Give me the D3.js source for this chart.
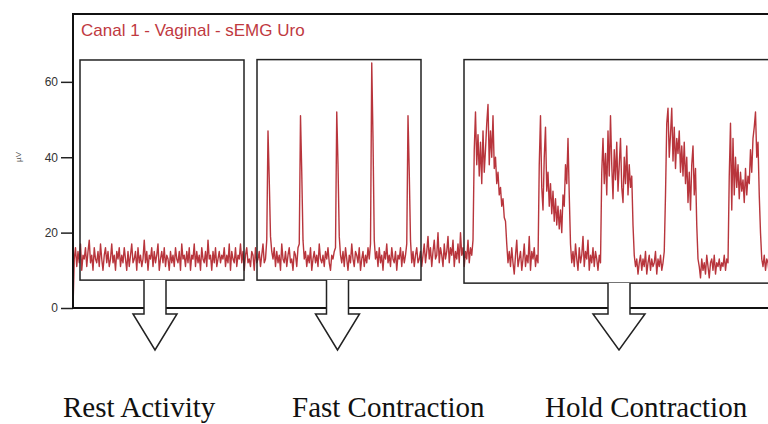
<!DOCTYPE html>
<html>
<head>
<meta charset="utf-8">
<script src="https://cdn.jsdelivr.net/npm/d3@7"></script>
<style>
  html, body { margin: 0; padding: 0; background: #fff; }
  #chart { width: 768px; height: 424px; overflow: hidden; }
</style>
</head>
<body>
<div id="chart"></div>
<script>
const width = 768;
const height = 424;

// sEMG amplitude (µV), one sample every 0.25 s
const sampleStep = 0.25;
const emg = [
  // 0 - 10 s
  0, 13, 16, 11, 15, 12, 17, 10, 14, 13, 16, 11, 15, 18, 12, 14, 10, 16, 13, 12,
  15, 11, 17, 13, 10, 14, 16, 12, 15, 11, 13, 17, 12, 14, 10, 15, 13, 16, 11, 14,
  // 10 - 20 s
  12, 16, 13, 10, 15, 11, 14, 17, 12, 13, 15, 10, 16, 12, 14, 11, 13, 18, 12, 15,
  10, 14, 13, 16, 11, 15, 12, 14, 17, 10, 13, 15, 12, 16, 11, 14, 13, 10, 15, 12,
  // 20 - 30 s
  14, 11, 16, 13, 12, 15, 10, 17, 13, 14, 11, 15, 12, 16, 10, 14, 13, 17, 11, 15,
  12, 14, 10, 16, 13, 12, 15, 11, 18, 13, 14, 10, 15, 12, 16, 11, 13, 15, 12, 14,
  // 30 - 40 s
  13, 16, 11, 14, 12, 17, 10, 15, 13, 12, 16, 11, 14, 13, 17, 12, 15, 10, 14, 16,
  12, 13, 11, 15, 14, 10, 16, 12, 13, 15, 11, 14, 17, 12, 13, 18, 47, 34, 19, 15,
  // 40 - 50 s
  13, 16, 11, 15, 12, 14, 10, 17, 13, 12, 15, 11, 14, 16, 12, 13, 10, 15, 14, 11,
  16, 17, 51, 36, 18, 13, 15, 11, 14, 12, 16, 10, 13, 15, 12, 14, 11, 17, 13, 12,
  // 50 - 60 s
  14, 11, 15, 13, 16, 12, 10, 14, 13, 15, 16, 52, 38, 19, 14, 12, 15, 11, 16, 13,
  10, 14, 12, 17, 13, 11, 15, 14, 12, 16, 10, 13, 15, 11, 14, 12, 16, 13, 17, 65,
  // 60 - 70 s
  45, 18, 13, 15, 11, 16, 12, 14, 10, 15, 13, 17, 12, 14, 11, 16, 13, 12, 15, 10,
  14, 13, 16, 11, 15, 12, 14, 17, 51, 36, 18, 12, 15, 11, 14, 16, 12, 13, 15, 11,
  // 70 - 80 s
  14, 17, 12, 15, 19, 13, 16, 11, 15, 18, 13, 14, 20, 12, 16, 14, 11, 17, 13, 15,
  19, 12, 16, 14, 18, 11, 15, 13, 17, 12, 20, 14, 16, 11, 15, 13, 18, 12, 16, 14,
  // 80 - 90 s
  18, 42, 52, 38, 46, 35, 44, 33, 47, 36, 42, 49, 54, 38, 47, 40, 51, 37, 40, 33,
  36, 30, 32, 27, 29, 24, 23, 17, 12, 15, 11, 16, 12, 9, 14, 18, 11, 13, 15, 10,
  // 90 - 100 s
  13, 17, 11, 14, 12, 19, 10, 15, 13, 16, 11, 14, 12, 38, 51, 32, 26, 40, 48, 31,
  36, 27, 33, 25, 31, 23, 29, 22, 27, 21, 26, 20, 30, 27, 38, 33, 45, 30, 17, 12,
  // 100 - 110 s
  15, 11, 17, 13, 10, 16, 12, 14, 19, 11, 15, 13, 18, 10, 14, 12, 16, 11, 15, 13,
  10, 14, 12, 36, 45, 33, 41, 30, 47, 35, 51, 38, 29, 42, 34, 44, 31, 38, 45, 32,
  // 110 - 120 s
  28, 40, 33, 43, 30, 38, 32, 35, 22, 14, 11, 13, 9, 12, 14, 10, 13, 11, 15, 9,
  12, 14, 10, 13, 11, 12, 15, 9, 13, 11, 14, 10, 12, 15, 30, 49, 53, 40, 46, 53,
  // 120 - 130 s
  39, 48, 37, 45, 41, 47, 36, 43, 35, 44, 33, 40, 28, 36, 26, 38, 43, 30, 37, 22,
  13, 11, 8, 13, 10, 12, 9, 14, 11, 8, 12, 13, 10, 14, 9, 12, 11, 13, 10, 12,
  // 130 - 140 s
  11, 14, 10, 13, 12, 35, 49, 26, 45, 30, 40, 32, 38, 29, 36, 31, 34, 28, 37, 30,
  35, 33, 42, 36, 45, 48, 52, 40, 44, 30, 20, 13, 11, 14, 10, 13, 12, 9, 14, 11
];

const yTicks = [0, 20, 40, 60];

// annotated sections (time in s, amplitude in µV)
const sectionNames = ["Rest Activity", "Fast Contraction", "Hold Contraction"];
const sectionStart = [1.4, 36.8, 78.2];
const sectionEnd = [34.2, 69.6, 150];
const sectionTop = [65.8, 65.9, 65.9];
const sectionBottom = [7.4, 7.4, 6.6];
const sectionArrow = [16.4, 52.9, 109.2];
const sectionLabelX = [63, 292, 545];

const margin = {left: 73, top: 14, bottom: 308};

let x = d3.scaleLinear().domain([0, 139]).range([margin.left, 768]);
let y = d3.scaleLinear().domain([0, 78]).range([margin.bottom, margin.top]);

const svg = d3.select("#chart").append("svg")
    .attr("width", width)
    .attr("height", height)
    .style("font-family", "Arial, 'Liberation Sans', sans-serif");

svg.append("defs").append("clipPath")
    .attr("id", "plotclip")
    .append("rect")
    .attr("x", margin.left)
    .attr("y", margin.top)
    .attr("width", 800 - margin.left)
    .attr("height", margin.bottom - margin.top);

// y axis
const yAxis = svg.append("g")
    .attr("transform", `translate(${margin.left},0)`)
    .call(d3.axisLeft(y).tickValues(yTicks).tickSize(12).tickPadding(3))
yAxis.select(".domain").remove();
yAxis.selectAll(".tick line").attr("stroke", "#222").attr("stroke-width", 1.5);
yAxis.selectAll(".tick text")
    .attr("fill", "#333")
    .style("font-size", "12px")
    .style("font-family", "Arial, 'Liberation Sans', sans-serif");

svg.append("text")
    .attr("transform", "translate(21,157) rotate(-90)")
    .attr("text-anchor", "middle")
    .attr("fill", "#555")
    .style("font-size", "8px")
    .text("µV");

// signal
const line = d3.line()
    .x((d, i) => x(i * sampleStep))
    .y(d => y(d));

svg.append("path")
    .datum(emg)
    .attr("clip-path", "url(#plotclip)")
    .attr("fill", "none")
    .attr("stroke", "#b01f27")
    .attr("stroke-opacity", 0.9)
    .attr("stroke-width", 1.4)
    .attr("stroke-linejoin", "round")
    .attr("d", line);

// plot frame
svg.append("rect")
    .attr("x", margin.left)
    .attr("y", margin.top)
    .attr("width", 800 - margin.left)
    .attr("height", margin.bottom - margin.top)
    .attr("fill", "none")
    .attr("stroke", "#111")
    .attr("stroke-width", 2);

svg.append("text")
    .attr("x", 81)
    .attr("y", 36)
    .attr("fill", "#c0393f")
    .style("font-size", "17px")
    .text("Canal 1 - Vaginal - sEMG Uro");

// section boxes
svg.append("g")
    .selectAll("rect")
    .data(sectionNames)
    .join("rect")
    .attr("x", (d, i) => x(sectionStart[i]))
    .attr("y", (d, i) => y(sectionTop[i]))
    .attr("width", (d, i) => x(sectionEnd[i]) - x(sectionStart[i]))
    .attr("height", (d, i) => y(sectionBottom[i]) - y(sectionTop[i]))
    .attr("fill", "none")
    .attr("stroke", "#222")
    .attr("stroke-width", 1.5);

// down arrows
const shaftHalf = 11;
const headHalf = 22;
const headTop = 314;
const tipY = 350;

svg.append("g")
    .selectAll("path")
    .data(sectionNames)
    .join("path")
    .attr("d", (d, i) => {
        const cx = x(sectionArrow[i]);
        const top = y(sectionBottom[i]);
        const hh = i === 2 ? headHalf + 4 : headHalf;
        return `M${cx - shaftHalf},${top} L${cx - shaftHalf},${headTop} L${cx - hh},${headTop}
                L${cx},${tipY} L${cx + hh},${headTop} L${cx + shaftHalf},${headTop} L${cx + shaftHalf},${top}`;
    })
    .attr("fill", "#fff")
    .attr("stroke", "#222")
    .attr("stroke-width", 1.5)
    .attr("stroke-linejoin", "miter");

// section labels
svg.append("g")
    .selectAll("text")
    .data(sectionNames)
    .join("text")
    .attr("x", (d, i) => sectionLabelX[i])
    .attr("y", 417)
    .attr("fill", "#111")
    .style("font-family", "'Liberation Serif', 'Times New Roman', serif")
    .style("font-size", "29px")
    .text(d => d);
</script>
</body>
</html>
